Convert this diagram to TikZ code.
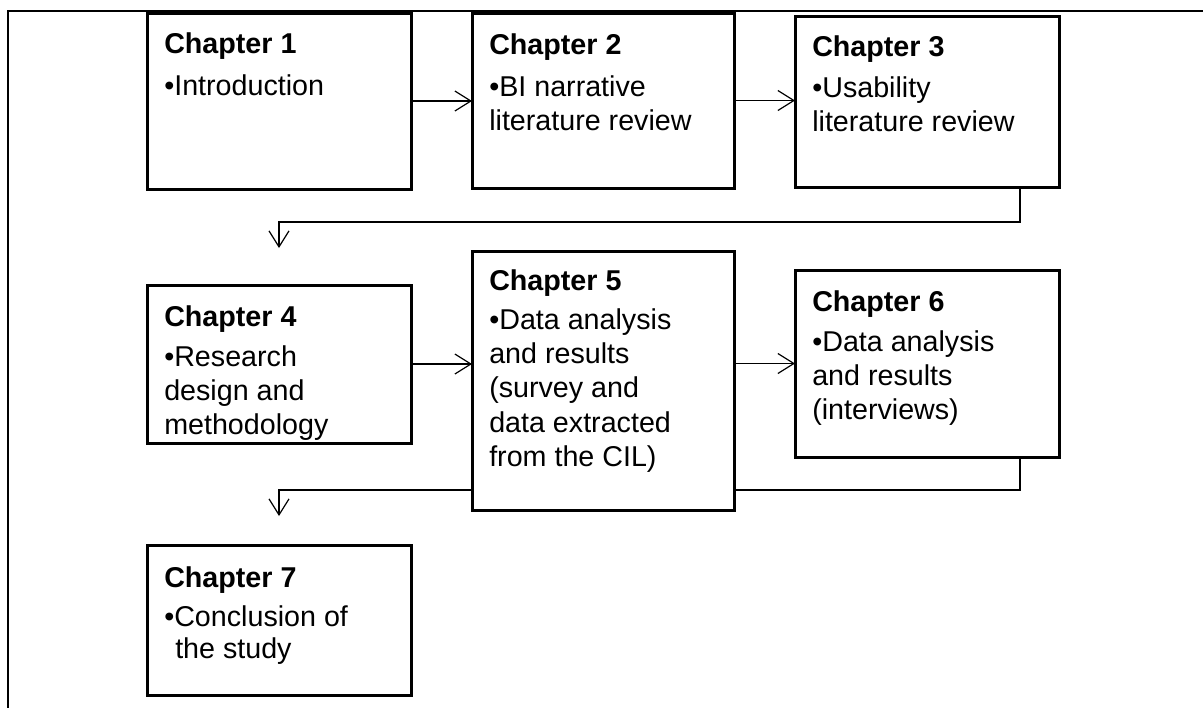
\documentclass[tikz,border=0pt]{standalone}
\usepackage{fontspec}
\setmainfont{Liberation Sans}
\usetikzlibrary{arrows.meta,backgrounds}
\begin{document}
\begin{tikzpicture}[x=0.75pt,y=-0.75pt,
  box/.style={draw=black, fill=white, line width=2.25pt, inner sep=0pt, outer sep=0pt,
    anchor=north west, minimum width=198pt},
  title/.style={anchor=base west, inner sep=0pt,
    font=\fontsize{21.5}{25}\selectfont\bfseries},
  body/.style={anchor=base west, inner sep=0pt,
    font=\fontsize{21.5}{25}\selectfont},
  link/.style={draw=black, line width=0.9pt,
    -{Straight Barb[length=12pt,width=15pt]}},
  frame/.style={line width=2pt}]
\useasboundingbox (0,0) rectangle (1203,708);
% outer frame (top and left edges)
\draw[frame] (1203,11) -- (8,11) -- (8,708);

% chapter boxes
\node[box, minimum height=132pt] (b1) at (147,13) {};
\node[box, minimum width=196.5pt, minimum height=131.25pt] (b2) at (472,13) {};
\node[box, minimum height=128.25pt] (b3) at (795,16) {};
\node[box, minimum height=118.5pt] (b4) at (147,285) {};
\node[box, minimum width=196.5pt, minimum height=194.25pt] (b5) at (472,251) {};
\node[box, minimum height=140.25pt] (b6) at (795,270) {};
\node[box, minimum height=112.5pt] (b7) at (147,545) {};

% box texts
\node[title] (t1) at (164,53) {Chapter 1};
\node[body] (t1a) at (164,95) {•Introduction};

\node[title] (t2) at (489,54) {Chapter 2};
\node[body] (t2a) at (489,96) {•BI narrative};
\node[body] (t2b) at (489,130.5) {literature review};

\node[title] (t3) at (812,56) {Chapter 3};
\node[body] (t3a) at (812,97) {•Usability};
\node[body] (t3b) at (812,131.5) {literature review};

\node[title] (t4) at (164,326) {Chapter 4};
\node[body] (t4a) at (164,366) {•Research};
\node[body] (t4b) at (164,400) {design and};
\node[body] (t4c) at (164,434) {methodology};

\node[title] (t5) at (489,290) {Chapter 5};
\node[body] (t5a) at (489,329) {•Data analysis};
\node[body] (t5b) at (489,363) {and results};
\node[body] (t5c) at (489,397.5) {(survey and};
\node[body] (t5d) at (489,432) {data extracted};
\node[body] (t5e) at (489,466) {from the CIL)};

\node[title] (t6) at (812,311) {Chapter 6};
\node[body] (t6a) at (812,351) {•Data analysis};
\node[body] (t6b) at (812,385) {and results};
\node[body] (t6c) at (812,419.5) {(interviews)};

\node[title] (t7) at (164,587) {Chapter 7};
\node[body] (t7a) at (164,626) {•Conclusion of};
\node[body] (t7b) at (175,658) {the study};

% connectors, kept behind the boxes
\coordinate (d1) at ([yshift=27.75pt]b4.north);
\coordinate (d2) at ([yshift=21.75pt]b7.north);
\begin{pgfonlayer}{background}
\draw[link] (b1.east) -- (b1.east -| b2.west);
\draw[link] (b2.east) -- (b2.east -| b3.west);
\draw[link] (b4.east) -- (b4.east -| b5.west);
\draw[link] (b6.west -| b5.east) -- (b6.west);
\draw[link] ([xshift=-29.25pt]b3.south east) |- ([yshift=19.5pt]d1) -- (d1);
\draw[link] ([xshift=-29.25pt]b6.south east) |- ([yshift=19.5pt]d2) -- (d2);
\end{pgfonlayer}
\end{tikzpicture}
\end{document}
